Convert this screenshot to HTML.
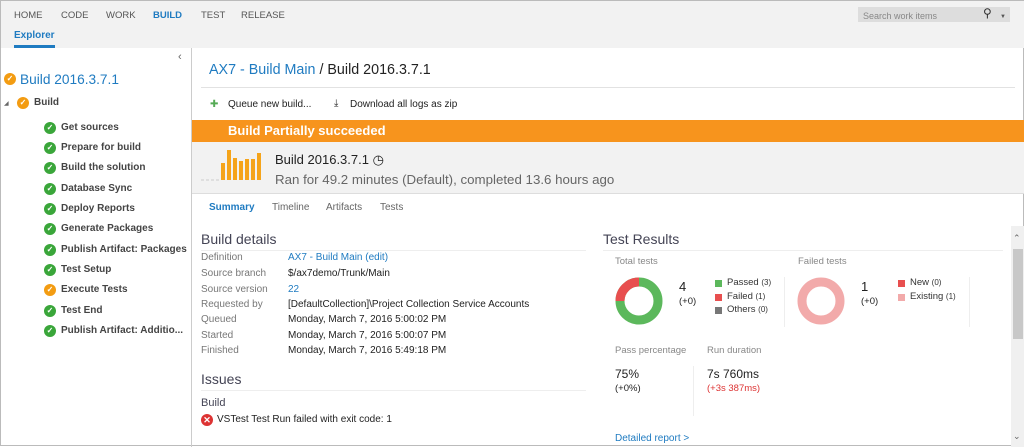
<!DOCTYPE html>
<html><head><meta charset="utf-8"><style>
*{margin:0;padding:0;box-sizing:border-box}
body{width:1024px;height:446px;overflow:hidden;background:#fff;font-family:"Liberation Sans",sans-serif;color:#222;position:relative;border:1px solid #bbb}
.a{position:absolute;white-space:nowrap;line-height:14px}
.nav{font-size:9.5px;color:#555;top:8px}
.ic{position:absolute;width:12px;height:12px;border-radius:50%;color:#fff;font-size:8px;line-height:12px;text-align:center;font-weight:bold}
.g{background:#3aa63a}.o{background:#f39c12}
.ti{font-size:10px;font-weight:bold;color:#444}
.lb{font-size:10px;color:#777;left:200px}
.vl{font-size:10px;color:#222;left:287px}
.bl{color:#1f7bc1}
.sq{position:absolute;width:7px;height:7px}
.lg{font-size:9.5px;color:#333}
.lg small{font-size:8px}
</style></head><body>
<div style="position:absolute;left:0;top:0;width:1024px;height:47px;background:#f2f2f2"></div>
<div class="a nav" style="left:13px">HOME</div>
<div class="a nav" style="left:60px">CODE</div>
<div class="a nav" style="left:105px">WORK</div>
<div class="a nav" style="left:152px;color:#1f7bc1;font-weight:bold">BUILD</div>
<div class="a nav" style="left:200px">TEST</div>
<div class="a nav" style="left:240px">RELEASE</div>
<div class="a" style="left:13px;top:28px;font-size:10px;font-weight:bold;color:#1f7bc1">Explorer</div>
<div style="position:absolute;left:13px;top:44px;width:41px;height:3px;background:#1f7bc1"></div>
<div style="position:absolute;left:857px;top:6px;width:152px;height:15px;background:#ddd"></div>
<div class="a" style="left:862px;top:8px;font-size:9px;color:#888">Search work items</div>
<div class="a" style="left:982px;top:5px;font-size:12px;color:#333">&#9906;</div>
<div class="a" style="left:999px;top:9px;font-size:6px;color:#555">&#9660;</div>

<div style="position:absolute;left:190px;top:47px;width:1px;height:399px;background:#ccc"></div>
<div class="a" style="left:177px;top:49px;font-size:11px;color:#666">&#8249;</div>
<div class="ic o" style="left:3px;top:72px">✓</div>
<div class="a" style="left:19px;top:70px;font-size:13.7px;line-height:17px;color:#1f7bc1">Build 2016.3.7.1</div>
<div class="a" style="left:3px;top:96px;font-size:6px;color:#666">&#9698;</div>
<div class="ic o" style="left:16px;top:96px">✓</div>
<div class="a ti" style="left:33px;top:95px">Build</div>
<div class="ic g" style="left:43px;top:121px">✓</div><div class="a ti" style="left:60px;top:120px">Get sources</div>
<div class="ic g" style="left:43px;top:141px">✓</div><div class="a ti" style="left:60px;top:140px">Prepare for build</div>
<div class="ic g" style="left:43px;top:161px">✓</div><div class="a ti" style="left:60px;top:160px">Build the solution</div>
<div class="ic g" style="left:43px;top:182px">✓</div><div class="a ti" style="left:60px;top:181px">Database Sync</div>
<div class="ic g" style="left:43px;top:202px">✓</div><div class="a ti" style="left:60px;top:201px">Deploy Reports</div>
<div class="ic g" style="left:43px;top:222px">✓</div><div class="a ti" style="left:60px;top:221px">Generate Packages</div>
<div class="ic g" style="left:43px;top:243px">✓</div><div class="a ti" style="left:60px;top:242px">Publish Artifact: Packages</div>
<div class="ic g" style="left:43px;top:263px">✓</div><div class="a ti" style="left:60px;top:262px">Test Setup</div>
<div class="ic o" style="left:43px;top:283px">✓</div><div class="a ti" style="left:60px;top:282px">Execute Tests</div>
<div class="ic g" style="left:43px;top:304px">✓</div><div class="a ti" style="left:60px;top:303px">Test End</div>
<div class="ic g" style="left:43px;top:324px">✓</div><div class="a ti" style="left:60px;top:323px">Publish Artifact: Additio...</div>

<div class="a" style="left:208px;top:60px;font-size:14.3px;line-height:18px"><span class="bl">AX7 - Build Main</span> / Build 2016.3.7.1</div>
<div style="position:absolute;left:200px;top:86px;width:814px;height:1px;background:#e2e2e2"></div>
<div class="a" style="left:209px;top:97px;font-size:10px;color:#5a5">&#10010;</div>
<div class="a" style="left:227px;top:97px;font-size:10px">Queue new build...</div>
<div class="a" style="left:333px;top:96px;font-size:10px">&#10515;</div>
<div class="a" style="left:349px;top:97px;font-size:10px">Download all logs as zip</div>
<div style="position:absolute;left:191px;top:119px;width:833px;height:22px;background:#f7941d"></div>
<div class="a" style="left:227px;top:122px;font-size:13px;line-height:16px;color:#fff;font-weight:bold">Build Partially succeeded</div>
<div style="position:absolute;left:191px;top:141px;width:833px;height:52px;background:#f2f2f2;border-bottom:1px solid #ddd"></div>
<svg style="position:absolute;left:200px;top:146px" width="70" height="34"><g fill="#f5a41b">
<rect x="20" y="16" width="4" height="17"/><rect x="26" y="3" width="4" height="30"/><rect x="32" y="11" width="4" height="22"/><rect x="38" y="14" width="4" height="19"/><rect x="44" y="12" width="4" height="21"/><rect x="50" y="12" width="4" height="21"/><rect x="56" y="6" width="4" height="27"/></g>
<line x1="0" y1="33" x2="19" y2="33" stroke="#ccc" stroke-dasharray="3 2"/></svg>
<div class="a" style="left:274px;top:151px;font-size:13px;line-height:16px">Build 2016.3.7.1 &#9719;</div>
<div class="a" style="left:274px;top:171px;font-size:13.3px;line-height:16px;color:#666">Ran for 49.2 minutes (Default), completed 13.6 hours ago</div>

<div class="a" style="left:208px;top:200px;font-size:10px;font-weight:bold;color:#1f7bc1">Summary</div>
<div class="a" style="left:271px;top:200px;font-size:10px;color:#666">Timeline</div>
<div class="a" style="left:325px;top:200px;font-size:10px;color:#666">Artifacts</div>
<div class="a" style="left:379px;top:200px;font-size:10px;color:#666">Tests</div>

<div class="a" style="left:200px;top:229px;font-size:14px;line-height:18px;color:#445">Build details</div>
<div style="position:absolute;left:200px;top:249px;width:385px;height:1px;background:#eee"></div>
<div class="a lb" style="top:250px">Definition</div><div class="a vl bl" style="top:250px">AX7 - Build Main (edit)</div>
<div class="a lb" style="top:266px">Source branch</div><div class="a vl" style="top:266px">$/ax7demo/Trunk/Main</div>
<div class="a lb" style="top:282px">Source version</div><div class="a vl bl" style="top:282px">22</div>
<div class="a lb" style="top:297px">Requested by</div><div class="a vl" style="top:297px">[DefaultCollection]\Project Collection Service Accounts</div>
<div class="a lb" style="top:312px">Queued</div><div class="a vl" style="top:312px">Monday, March 7, 2016 5:00:02 PM</div>
<div class="a lb" style="top:328px">Started</div><div class="a vl" style="top:328px">Monday, March 7, 2016 5:00:07 PM</div>
<div class="a lb" style="top:343px">Finished</div><div class="a vl" style="top:343px">Monday, March 7, 2016 5:49:18 PM</div>
<div class="a" style="left:200px;top:369px;font-size:14px;line-height:18px;color:#445">Issues</div>
<div style="position:absolute;left:200px;top:389px;width:385px;height:1px;background:#eee"></div>
<div class="a" style="left:200px;top:395px;font-size:11px;color:#445">Build</div>
<div class="ic" style="left:200px;top:413px;background:#d33;font-size:9px">✕</div>
<div class="a" style="left:216px;top:412px;font-size:10px">VSTest Test Run failed with exit code: 1</div>

<div class="a" style="left:602px;top:229px;font-size:14px;line-height:18px;color:#445">Test Results</div>
<div style="position:absolute;left:602px;top:249px;width:400px;height:1px;background:#eee"></div>
<div class="a" style="left:614px;top:254px;font-size:9.5px;color:#888">Total tests</div>
<div class="a" style="left:797px;top:254px;font-size:9.5px;color:#888">Failed tests</div>
<svg style="position:absolute;left:614px;top:276px" width="48" height="48"><circle cx="24" cy="24" r="19" fill="none" stroke="#5cb85c" stroke-width="9"/><path d="M24 5 A19 19 0 0 0 5 24" fill="none" stroke="#e84f4f" stroke-width="9"/></svg>
<svg style="position:absolute;left:796px;top:276px" width="48" height="48"><circle cx="24" cy="24" r="19" fill="none" stroke="#f2aaaa" stroke-width="9"/></svg>
<div class="a" style="left:678px;top:278px;font-size:13px;line-height:16px">4</div>
<div class="a" style="left:678px;top:294px;font-size:9.5px">(+0)</div>
<div class="a" style="left:860px;top:278px;font-size:13px;line-height:16px">1</div>
<div class="a" style="left:860px;top:294px;font-size:9.5px">(+0)</div>
<div class="sq" style="left:714px;top:279px;background:#5cb85c"></div><div class="a lg" style="left:726px;top:275px">Passed <small>(3)</small></div>
<div class="sq" style="left:714px;top:293px;background:#e84f4f"></div><div class="a lg" style="left:726px;top:289px">Failed <small>(1)</small></div>
<div class="sq" style="left:714px;top:306px;background:#777"></div><div class="a lg" style="left:726px;top:302px">Others <small>(0)</small></div>
<div class="sq" style="left:897px;top:279px;background:#e84f4f"></div><div class="a lg" style="left:909px;top:275px">New <small>(0)</small></div>
<div class="sq" style="left:897px;top:293px;background:#f2aaaa"></div><div class="a lg" style="left:909px;top:289px">Existing <small>(1)</small></div>
<div style="position:absolute;left:783px;top:276px;width:1px;height:50px;background:#eee"></div>
<div style="position:absolute;left:968px;top:276px;width:1px;height:50px;background:#eee"></div>
<div class="a" style="left:614px;top:343px;font-size:9.5px;color:#888">Pass percentage</div>
<div class="a" style="left:706px;top:343px;font-size:9.5px;color:#888">Run duration</div>
<div class="a" style="left:614px;top:366px;font-size:12px">75%</div>
<div class="a" style="left:614px;top:381px;font-size:9.5px">(+0%)</div>
<div style="position:absolute;left:692px;top:365px;width:1px;height:50px;background:#eee"></div>
<div class="a" style="left:706px;top:366px;font-size:12px">7s 760ms</div>
<div class="a" style="left:706px;top:381px;font-size:9.5px;color:#d33">(+3s 387ms)</div>
<div class="a bl" style="left:614px;top:431px;font-size:10px">Detailed report &gt;</div>

<div style="position:absolute;left:1010px;top:225px;width:14px;height:221px;background:#f0f0f0"></div>
<div style="position:absolute;left:1012px;top:248px;width:10px;height:90px;background:#c8c8c8"></div>
<div class="a" style="left:1012px;top:230px;font-size:9px;color:#666">&#8963;</div>
<div class="a" style="left:1012px;top:428px;font-size:9px;color:#666">&#8964;</div>
</body></html>
